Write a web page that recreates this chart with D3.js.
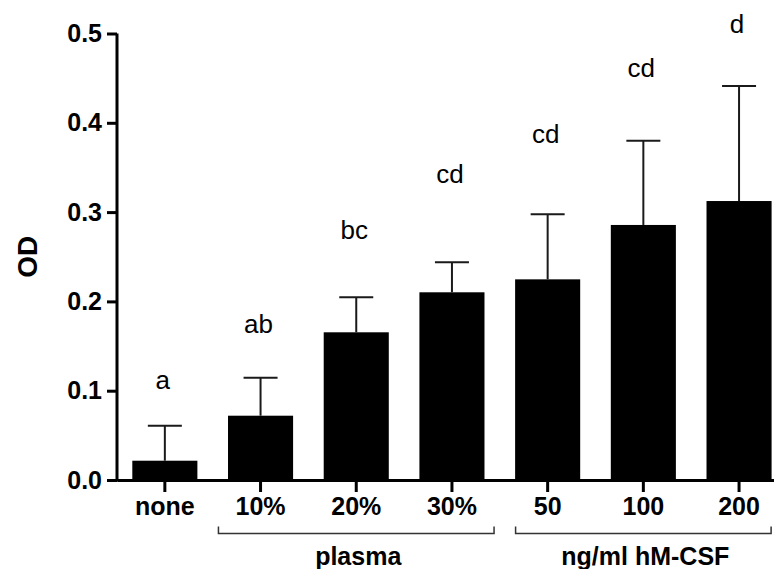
<!DOCTYPE html>
<html>
<head>
<meta charset="utf-8">
<script src="https://d3js.org/d3.v7.min.js"></script>
<style>
body { margin: 0; background: #fff; }
svg { display: block; }
</style>
</head>
<body>
<script>
//Data
var categories = ["none", "10%", "20%", "30%", "50", "100", "200"];
var means = [0.0216, 0.072, 0.1654, 0.2102, 0.2247, 0.2856, 0.3124];
var errors = [0.0392, 0.0426, 0.0392, 0.0336, 0.0728, 0.0944, 0.1288]; //upper SD only
var letters = ["a", "ab", "bc", "cd", "cd", "cd", "d"];
var letterLevels = [0.102, 0.1646, 0.2699, 0.3326, 0.377, 0.4513, 0.5005]; //baseline of each letter, in OD
var yTicks = [0, 0.1, 0.2, 0.3, 0.4, 0.5];
var groupNames = ["plasma", "ng/ml hM-CSF"];
var groupFirst = ["10%", "50"];
var groupLast = ["30%", "200"];

var width = 774, height = 569;

var svg = d3.select("body").append("svg")
	.attr("width", width).attr("height", height)
	.style("font-family", "'Liberation Sans', Arial, sans-serif");

//Scales, the band range goes a bit past the right edge like in the original
var x = d3.scaleBand()
	.domain(categories)
	.range([117, 117 + 7 * 95.7])
	.paddingInner(0.32)
	.paddingOuter(0.16);

var y = d3.scaleLinear()
	.domain([0, 0.5])
	.range([480, 33.5]);

//Bars
svg.append("g").attr("id", "bars")
	.selectAll("rect")
	.data(means)
	.enter()
	.append("rect")
	.attr("x", function (d, i) { return x(categories[i]); })
	.attr("width", x.bandwidth())
	.attr("y", function (d) { return y(d); })
	.attr("height", function (d) { return y(0) - y(d); })
	.style("fill", "#000");

//Error bars (only upward)
var capHalf = 17;
var err = svg.append("g").attr("id", "errors")
	.attr("stroke", "#1a1a1a").attr("stroke-width", 2).attr("fill", "none");

err.selectAll("line.stem")
	.data(means)
	.enter()
	.append("line").attr("class", "stem")
	.attr("x1", function (d, i) { return x(categories[i]) + x.bandwidth() / 2; })
	.attr("x2", function (d, i) { return x(categories[i]) + x.bandwidth() / 2; })
	.attr("y1", function (d) { return y(d); })
	.attr("y2", function (d, i) { return y(d + errors[i]); });

err.selectAll("line.cap")
	.data(means)
	.enter()
	.append("line").attr("class", "cap")
	.attr("x1", function (d, i) { return x(categories[i]) + x.bandwidth() / 2 - capHalf; })
	.attr("x2", function (d, i) { return x(categories[i]) + x.bandwidth() / 2 + capHalf; })
	.attr("y1", function (d, i) { return y(d + errors[i]); })
	.attr("y2", function (d, i) { return y(d + errors[i]); });

//Significance letters
svg.append("g").attr("id", "letters")
	.selectAll("text")
	.data(letters)
	.enter()
	.append("text")
	.attr("x", function (d, i) { return x(categories[i]) + x.bandwidth() / 2 - 2; })
	.attr("y", function (d, i) { return y(letterLevels[i]); })
	.attr("text-anchor", "middle")
	.style("font-size", "26px")
	.style("fill", "#000")
	.text(function (d) { return d; });

//Axes
var yAxis = svg.append("g")
	.attr("transform", "translate(117,0)")
	.call(d3.axisLeft(y).tickValues(yTicks).tickFormat(d3.format(".1f")).tickSize(10).tickSizeOuter(0).tickPadding(5));

var xAxis = svg.append("g")
	.attr("transform", "translate(0,480)")
	.call(d3.axisBottom(x).tickSize(12).tickSizeOuter(0).tickPadding(5));

[yAxis, xAxis].forEach(function (a) {
	a.select(".domain").attr("stroke", "#000").attr("stroke-width", 3);
	a.selectAll(".tick line").attr("stroke", "#000").attr("stroke-width", 3);
	a.selectAll(".tick text")
		.style("font-family", "'Liberation Sans', Arial, sans-serif")
		.style("font-size", "25px")
		.style("font-weight", "bold")
		.style("fill", "#000");
});
yAxis.select(".domain").attr("d", "M0," + y(0.5) + "V" + (y(0) + 1.5));

//Y title
svg.append("text")
	.attr("transform", "rotate(-90)")
	.attr("x", -(y(0) + y(0.5)) / 2)
	.attr("y", 37)
	.attr("text-anchor", "middle")
	.style("font-size", "28px")
	.style("font-weight", "bold")
	.text("OD");

//Group brackets under the axis labels
var bracketPad = [0.44, 0.335]; //fraction of a step past the outer band centres
var brackets = svg.append("g").attr("id", "groups");
groupNames.forEach(function (name, i) {
	var step = x.step();
	var x0 = x(groupFirst[i]) + x.bandwidth() / 2 - bracketPad[i] * step;
	var x1 = x(groupLast[i]) + x.bandwidth() / 2 + bracketPad[i] * step;
	brackets.append("path")
		.attr("d", "M" + x0 + ",526.5V533.5H" + x1 + "V526.5")
		.attr("fill", "none")
		.attr("stroke", "#333")
		.attr("stroke-width", 1.5);
	brackets.append("text")
		.attr("x", (x0 + x1) / 2 + 2)
		.attr("y", 565)
		.attr("text-anchor", "middle")
		.style("font-size", "25px")
		.style("font-weight", "bold")
		.text(name);
});
</script>
</body>
</html>
